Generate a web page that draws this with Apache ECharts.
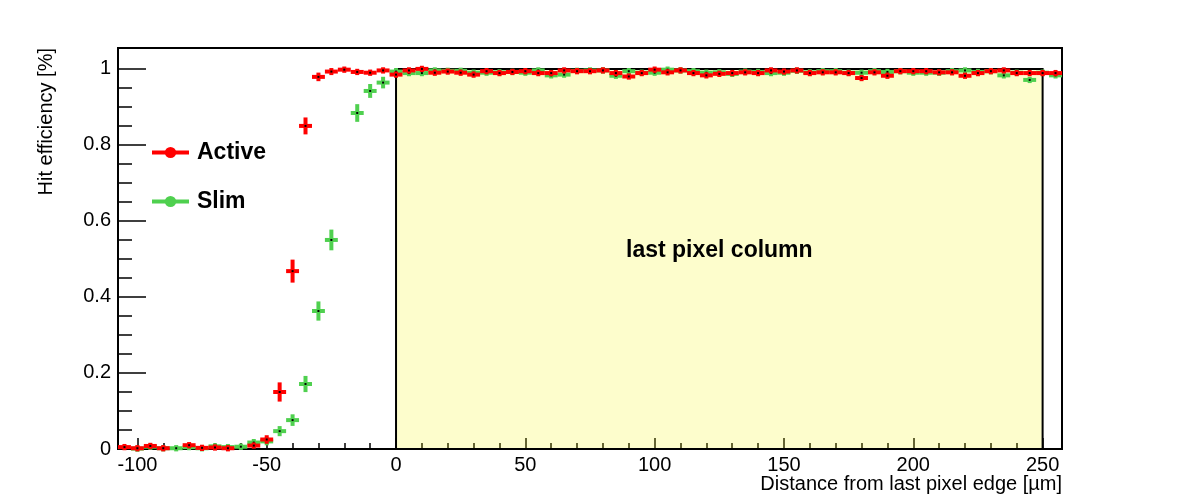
<!DOCTYPE html>
<html>
<head>
<meta charset="utf-8">
<script src="https://cdn.jsdelivr.net/npm/echarts@6/dist/echarts.min.js"></script>
<style>
  html, body { margin: 0; padding: 0; background: #fff; }
  #chart { width: 1182px; height: 500px; }
</style>
</head>
<body>
<div id="chart"></div>
<script>
// bin centres in µm (5 µm bins)
const binCenters = [
  -105, -100, -95, -90, -85, -80, -75, -70, -65, -60,
  -55, -50, -45, -40, -35, -30, -25, -20, -15, -10,
  -5, 0, 5, 10, 15, 20, 25, 30, 35, 40,
  45, 50, 55, 60, 65, 70, 75, 80, 85, 90,
  95, 100, 105, 110, 115, 120, 125, 130, 135, 140,
  145, 150, 155, 160, 165, 170, 175, 180, 185, 190,
  195, 200, 205, 210, 215, 220, 225, 230, 235, 240,
  245, 250, 255
]

const activeEff = [
  0.005, 0.002, 0.008, 0.002, null, 0.010, 0.003, 0.004, 0.002, null,
  0.009, 0.025, 0.150, 0.468, 0.850, 0.979, 0.993, 0.998, 0.992, 0.990,
  0.996, 0.985, 0.996, 1.000, 0.990, 0.993, 0.990, 0.985, 0.994, 0.989,
  0.992, 0.994, 0.989, 0.989, 0.996, 0.994, 0.994, 0.996, 0.989, 0.980,
  0.989, 0.998, 0.991, 0.996, 0.989, 0.983, 0.987, 0.989, 0.991, 0.989,
  0.996, 0.993, 0.996, 0.989, 0.991, 0.991, 0.989, 0.976, 0.991, 0.982,
  0.994, 0.994, 0.994, 0.991, 0.991, 0.982, 0.989, 0.994, 0.996, 0.989,
  0.989, 0.989, 0.989
]
const activeErr = [
  0.003, 0.003, 0.003, 0.003, 0.003, 0.003, 0.003, 0.003, 0.003, 0.003,
  0.003, 0.006, 0.020, 0.025, 0.017, 0.006, 0.004, 0.003, 0.003, 0.003,
  0.003, 0.003, 0.003, 0.003, 0.003, 0.003, 0.003, 0.003, 0.003, 0.003,
  0.003, 0.003, 0.003, 0.003, 0.003, 0.003, 0.003, 0.003, 0.003, 0.003,
  0.003, 0.003, 0.003, 0.003, 0.003, 0.003, 0.003, 0.003, 0.003, 0.003,
  0.003, 0.003, 0.003, 0.003, 0.003, 0.003, 0.003, 0.003, 0.003, 0.003,
  0.003, 0.003, 0.003, 0.003, 0.003, 0.003, 0.003, 0.003, 0.003, 0.003,
  0.003, 0.003, 0.003
]

const slimEff = [
  null, 0.001, 0.006, 0.002, 0.002, 0.005, 0.002, 0.007, 0.005, 0.006,
  0.017, 0.020, 0.047, 0.076, 0.171, 0.363, 0.550, null, 0.884, 0.942,
  0.964, 0.993, 0.989, 0.989, 0.996, 0.995, 0.995, 0.990, 0.990, 0.991,
  0.992, 0.990, 0.996, 0.983, 0.985, 0.995, 0.996, 0.996, 0.982, 0.994,
  0.990, 0.990, 0.998, 0.996, 0.994, 0.990, 0.991, 0.987, 0.993, 0.992,
  0.989, 0.990, 0.995, 0.991, 0.994, 0.994, 0.990, 0.990, 0.994, 0.992,
  0.994, 0.990, 0.990, 0.990, 0.994, 0.996, 0.992, 0.994, 0.983, 0.990,
  0.971, 0.990, 0.983
]
const slimErr = [
  0.003, 0.003, 0.003, 0.003, 0.003, 0.003, 0.003, 0.003, 0.003, 0.003,
  0.004, 0.005, 0.008, 0.010, 0.016, 0.020, 0.022, 0.000, 0.018, 0.013,
  0.010, 0.004, 0.003, 0.003, 0.003, 0.003, 0.003, 0.003, 0.003, 0.003,
  0.003, 0.003, 0.003, 0.003, 0.003, 0.003, 0.003, 0.003, 0.003, 0.003,
  0.003, 0.003, 0.003, 0.003, 0.003, 0.003, 0.003, 0.003, 0.003, 0.003,
  0.003, 0.003, 0.003, 0.003, 0.003, 0.003, 0.003, 0.003, 0.003, 0.003,
  0.003, 0.003, 0.003, 0.003, 0.003, 0.003, 0.003, 0.003, 0.003, 0.003,
  0.003, 0.003, 0.003
]

const xTickLabels = [-100, -50, 0, 50, 100, 150, 200, 250]
const xMinorTicks = [-100, -90, -80, -70, -60, -50, -40, -30, -20, -10, 0, 10, 20, 30, 40, 50, 60, 70, 80, 90,
  100, 110, 120, 130, 140, 150, 160, 170, 180, 190, 200, 210, 220, 230, 240, 250]
const yTickLabels = [0, 0.2, 0.4, 0.6, 0.8, 1]
const yMinorTicks = [0.05, 0.1, 0.15, 0.25, 0.3, 0.35, 0.45, 0.5, 0.55, 0.65, 0.7, 0.75, 0.85, 0.9, 0.95]

const binWidth = 5
const regionX = [0, 250]
const regionTop = 1
const regionLabel = 'last pixel column'

const FONT = '"Liberation Sans", Arial, Helvetica, sans-serif'
const RED = '#ff0000'
const GREEN = '#4fd04f'

const toData = (eff, err) => binCenters
  .map((x, i) => [x, eff[i], err[i]])
  .filter(d => d[1] !== null)

const errorBars = (color) => (params, api) => {
  const x = api.value(0)
  const y = api.value(1)
  const e = api.value(2)
  const l = api.coord([x - binWidth / 2, y])
  const r = api.coord([x + binWidth / 2, y])
  const t = api.coord([x, y + e])
  const b = api.coord([x, y - e])
  const c = api.coord([x, y])
  return {
    type: 'group',
    children: [
      { type: 'rect', shape: { x: l[0], y: c[1] - 2, width: r[0] - l[0], height: 4 }, style: { fill: color } },
      { type: 'rect', shape: { x: c[0] - 2, y: t[1] - 2, width: 4, height: b[1] - t[1] + 4 }, style: { fill: color } },
      { type: 'rect', shape: { x: c[0] - 1, y: c[1] - 1, width: 2, height: 2 }, style: { fill: '#000' } }
    ]
  }
}

const chart = echarts.init(document.getElementById('chart'))
chart.setOption({
  animation: false,
  textStyle: { fontFamily: FONT },
  grid: {
    left: 118, right: 120, top: 48, bottom: 51,
    show: true, borderColor: '#000', borderWidth: 2, backgroundColor: 'transparent'
  },
  legend: {
    data: ['Active', 'Slim'],
    orient: 'vertical',
    left: 150,
    top: 141,
    padding: 0,
    itemWidth: 37,
    itemHeight: 14,
    itemGap: 26,
    selectedMode: false,
    lineStyle: { width: 4 },
    textStyle: { fontSize: 23, fontWeight: 'bold', color: '#000', fontFamily: FONT, padding: [0, 0, 0, 3] }
  },
  xAxis: [
    {
      type: 'value', min: -107.5, max: 257.5,
      axisLine: { show: true, onZero: false, lineStyle: { color: '#000', width: 2 } },
      axisTick: { inside: true, length: 11, customValues: xTickLabels, lineStyle: { color: '#000', width: 1.5 } },
      axisLabel: { customValues: xTickLabels, fontSize: 20, color: '#000', margin: 6, fontFamily: FONT },
      splitLine: { show: false }
    },
    {
      type: 'value', min: -107.5, max: 257.5, position: 'bottom',
      axisLine: { show: false, onZero: false },
      axisTick: { inside: true, length: 6, customValues: xMinorTicks, lineStyle: { color: '#000', width: 1.5 } },
      axisLabel: { show: false },
      splitLine: { show: false }
    }
  ],
  yAxis: [
    {
      type: 'value', min: 0, max: 1.055,
      axisLine: { show: true, onZero: false, lineStyle: { color: '#000', width: 2 } },
      axisTick: { inside: true, length: 28, customValues: yTickLabels, lineStyle: { color: '#000', width: 1.5 } },
      axisLabel: { customValues: yTickLabels, fontSize: 20, color: '#000', margin: 7, fontFamily: FONT },
      splitLine: { show: false }
    },
    {
      type: 'value', min: 0, max: 1.055, position: 'left',
      axisLine: { show: false, onZero: false },
      axisTick: { inside: true, length: 14, customValues: yMinorTicks, lineStyle: { color: '#000', width: 1.5 } },
      axisLabel: { show: false },
      splitLine: { show: false }
    }
  ],
  graphic: [
    {
      type: 'text', x: 46, y: 48, rotation: Math.PI / 2,
      style: { text: 'Hit efficiency [%]', fill: '#000', font: '20px ' + FONT, align: 'right', verticalAlign: 'middle' }
    },
    {
      type: 'text', x: 1062, y: 484,
      style: { text: 'Distance from last pixel edge [\u00b5m]', fill: '#000', font: '20px ' + FONT, align: 'right', verticalAlign: 'middle' }
    }
  ],
  series: [
    {
      name: 'region',
      type: 'line',
      data: [],
      z: 1,
      silent: true,
      markArea: {
        silent: true,
        itemStyle: { color: 'rgba(245, 245, 0, 0.2)', borderColor: '#000', borderWidth: 2, opacity: 1 },
        label: {
          show: true, position: 'inside', color: '#000', fontSize: 23, fontWeight: 'bold',
          fontFamily: FONT, offset: [0, -8]
        },
        emphasis: { disabled: true },
        data: [[
          { name: regionLabel, xAxis: regionX[0], yAxis: 0 },
          { xAxis: regionX[1], yAxis: regionTop }
        ]]
      }
    },
    {
      name: 'Slim',
      type: 'line',
      data: [],
      symbol: 'circle',
      symbolSize: 10,
      itemStyle: { color: GREEN },
      lineStyle: { color: GREEN, width: 4 }
    },
    {
      name: 'Active',
      type: 'line',
      data: [],
      symbol: 'circle',
      symbolSize: 10,
      itemStyle: { color: RED },
      lineStyle: { color: RED, width: 4 }
    },
    {
      name: 'Slim data',
      type: 'custom',
      z: 3,
      silent: true,
      renderItem: errorBars(GREEN),
      data: toData(slimEff, slimErr)
    },
    {
      name: 'Active data',
      type: 'custom',
      z: 4,
      silent: true,
      renderItem: errorBars(RED),
      data: toData(activeEff, activeErr)
    }
  ]
})
</script>
</body>
</html>
